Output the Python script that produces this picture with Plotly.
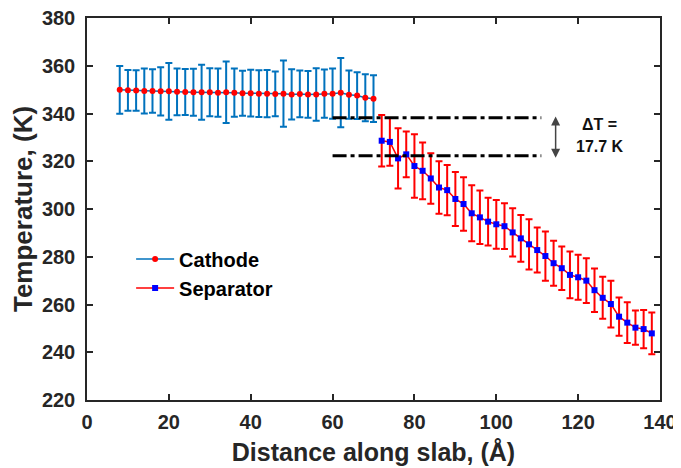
import plotly.graph_objects as go

# ---- data ----
cathode_x = list(range(8, 71, 2))
cathode_T = [349.9, 349.7, 349.6, 349.4, 349.4, 349.3, 349.3, 349.1, 349.0, 348.9,
             348.9, 348.9, 348.7, 348.9, 348.7, 348.5, 348.5, 348.3, 348.3, 348.2,
             348.3, 348.0, 348.2, 348.0, 348.0, 348.3, 348.3, 348.7, 347.9, 347.5,
             346.6, 346.2]
cathode_err = [10.0, 8.5, 8.5, 9.4, 9.1, 10.1, 11.9, 9.8, 9.6, 9.8,
               11.5, 10.1, 10.1, 12.9, 10.1, 9.4, 9.8, 9.8, 9.9, 9.4,
               13.9, 10.5, 9.8, 9.8, 11.0, 10.1, 10.5, 14.5, 10.1, 9.8,
               9.8, 9.8]

separator_x = list(range(72, 139, 2))
separator_T = [328.6, 328.1, 321.2, 322.9, 318.0, 316.0, 312.8, 309.0, 307.9, 304.2,
               302.1, 298.2, 296.5, 294.7, 293.6, 292.8, 290.2, 287.7, 285.2, 282.8,
               280.3, 277.3, 275.2, 272.4, 271.4, 270.0, 266.0, 262.8, 260.2, 254.9,
               252.4, 250.3, 249.7, 247.9]
separator_err = [10.8, 10.0, 12.6, 9.6, 13.3, 11.9, 10.6, 11.0, 10.5, 11.3,
                 11.2, 11.7, 11.2, 10.0, 10.2, 9.6, 10.1, 9.8, 10.5, 9.4,
                 10.3, 9.4, 9.1, 9.8, 9.4, 9.4, 9.1, 8.8, 9.8, 8.0,
                 8.5, 7.2, 8.0, 8.7]

ref_levels = [338.2, 322.3]
ref_x_range = [60, 111]
delta_label = ["ΔT =", "17.7 K"]
x_ticks = list(range(0, 141, 20))
y_ticks = list(range(220, 381, 20))

FONT = "Liberation Sans, Arial, sans-serif"
BLUE = "#0072BD"
RED = "#FF0000"
DBLUE = "#0000FF"
AXC = "#262626"

fig = go.Figure()

fig.add_trace(go.Scatter(
    x=cathode_x, y=cathode_T, name="Cathode", mode="lines+markers",
    line=dict(color=BLUE, width=1.5),
    marker=dict(color=RED, size=6, symbol="circle"),
    error_y=dict(type="data", array=cathode_err, visible=True,
                 color=BLUE, thickness=2, width=3.5),
))
fig.add_trace(go.Scatter(
    x=separator_x, y=separator_T, name="Separator", mode="lines+markers",
    line=dict(color=RED, width=1.5),
    marker=dict(color=DBLUE, size=6, symbol="square"),
    error_y=dict(type="data", array=separator_err, visible=True,
                 color=RED, thickness=2, width=3.5),
))

for lvl in ref_levels:
    fig.add_trace(go.Scatter(
        x=ref_x_range, y=[lvl, lvl], mode="lines", showlegend=False,
        line=dict(color="black", width=3, dash="14px,4px,4px,4px"),
        hoverinfo="skip",
    ))

# double-headed arrow
fig.add_annotation(x=114.5, y=ref_levels[0] + 0.5, ax=114.5, ay=ref_levels[1] - 1.5,
                   xref="x", yref="y", axref="x", ayref="y", text="",
                   showarrow=True, arrowhead=2, arrowside="end+start",
                   arrowsize=1.2, arrowwidth=1.5, arrowcolor="#444444")
fig.add_annotation(x=125.3, y=335.2, xref="x", yref="y", text=delta_label[0],
                   showarrow=False, font=dict(family=FONT, size=16, color="#111111", weight="bold"))
fig.add_annotation(x=125.3, y=326.2, xref="x", yref="y", text=delta_label[1],
                   showarrow=False, font=dict(family=FONT, size=16, color="#111111", weight="bold"))

axis_common = dict(
    showline=True, linecolor=AXC, linewidth=1.5, mirror="ticks",
    ticks="inside", ticklen=6, tickwidth=1.5, tickcolor=AXC,
    showgrid=False, zeroline=False, automargin=False,
    ticklabeloverflow="allow",
    tickfont=dict(family=FONT, size=20, color=AXC, weight="bold"),
)

fig.update_xaxes(range=[0, 140], tickvals=x_ticks, ticklabelstandoff=3,
                 title=dict(text="Distance along slab, (Å)", standoff=12,
                            font=dict(family=FONT, size=25, color=AXC, weight="bold")),
                 **axis_common)
fig.update_yaxes(range=[220, 380], tickvals=y_ticks, ticklabelstandoff=6,
                 title=dict(text="Temperature, (K)", standoff=6,
                            font=dict(family=FONT, size=26, color=AXC, weight="bold")),
                 **axis_common)

fig.update_layout(
    width=673, height=460,
    margin=dict(l=79, r=21, t=10, b=68),
    paper_bgcolor="white", plot_bgcolor="white",
    showlegend=True,
    legend=dict(x=0.077, y=0.42, xanchor="left", yanchor="top",
                bgcolor="rgba(0,0,0,0)", borderwidth=0,
                font=dict(family=FONT, size=20, color="black", weight="bold"),
                itemwidth=38, tracegroupgap=0),
)

fig.write_html("out.html")
